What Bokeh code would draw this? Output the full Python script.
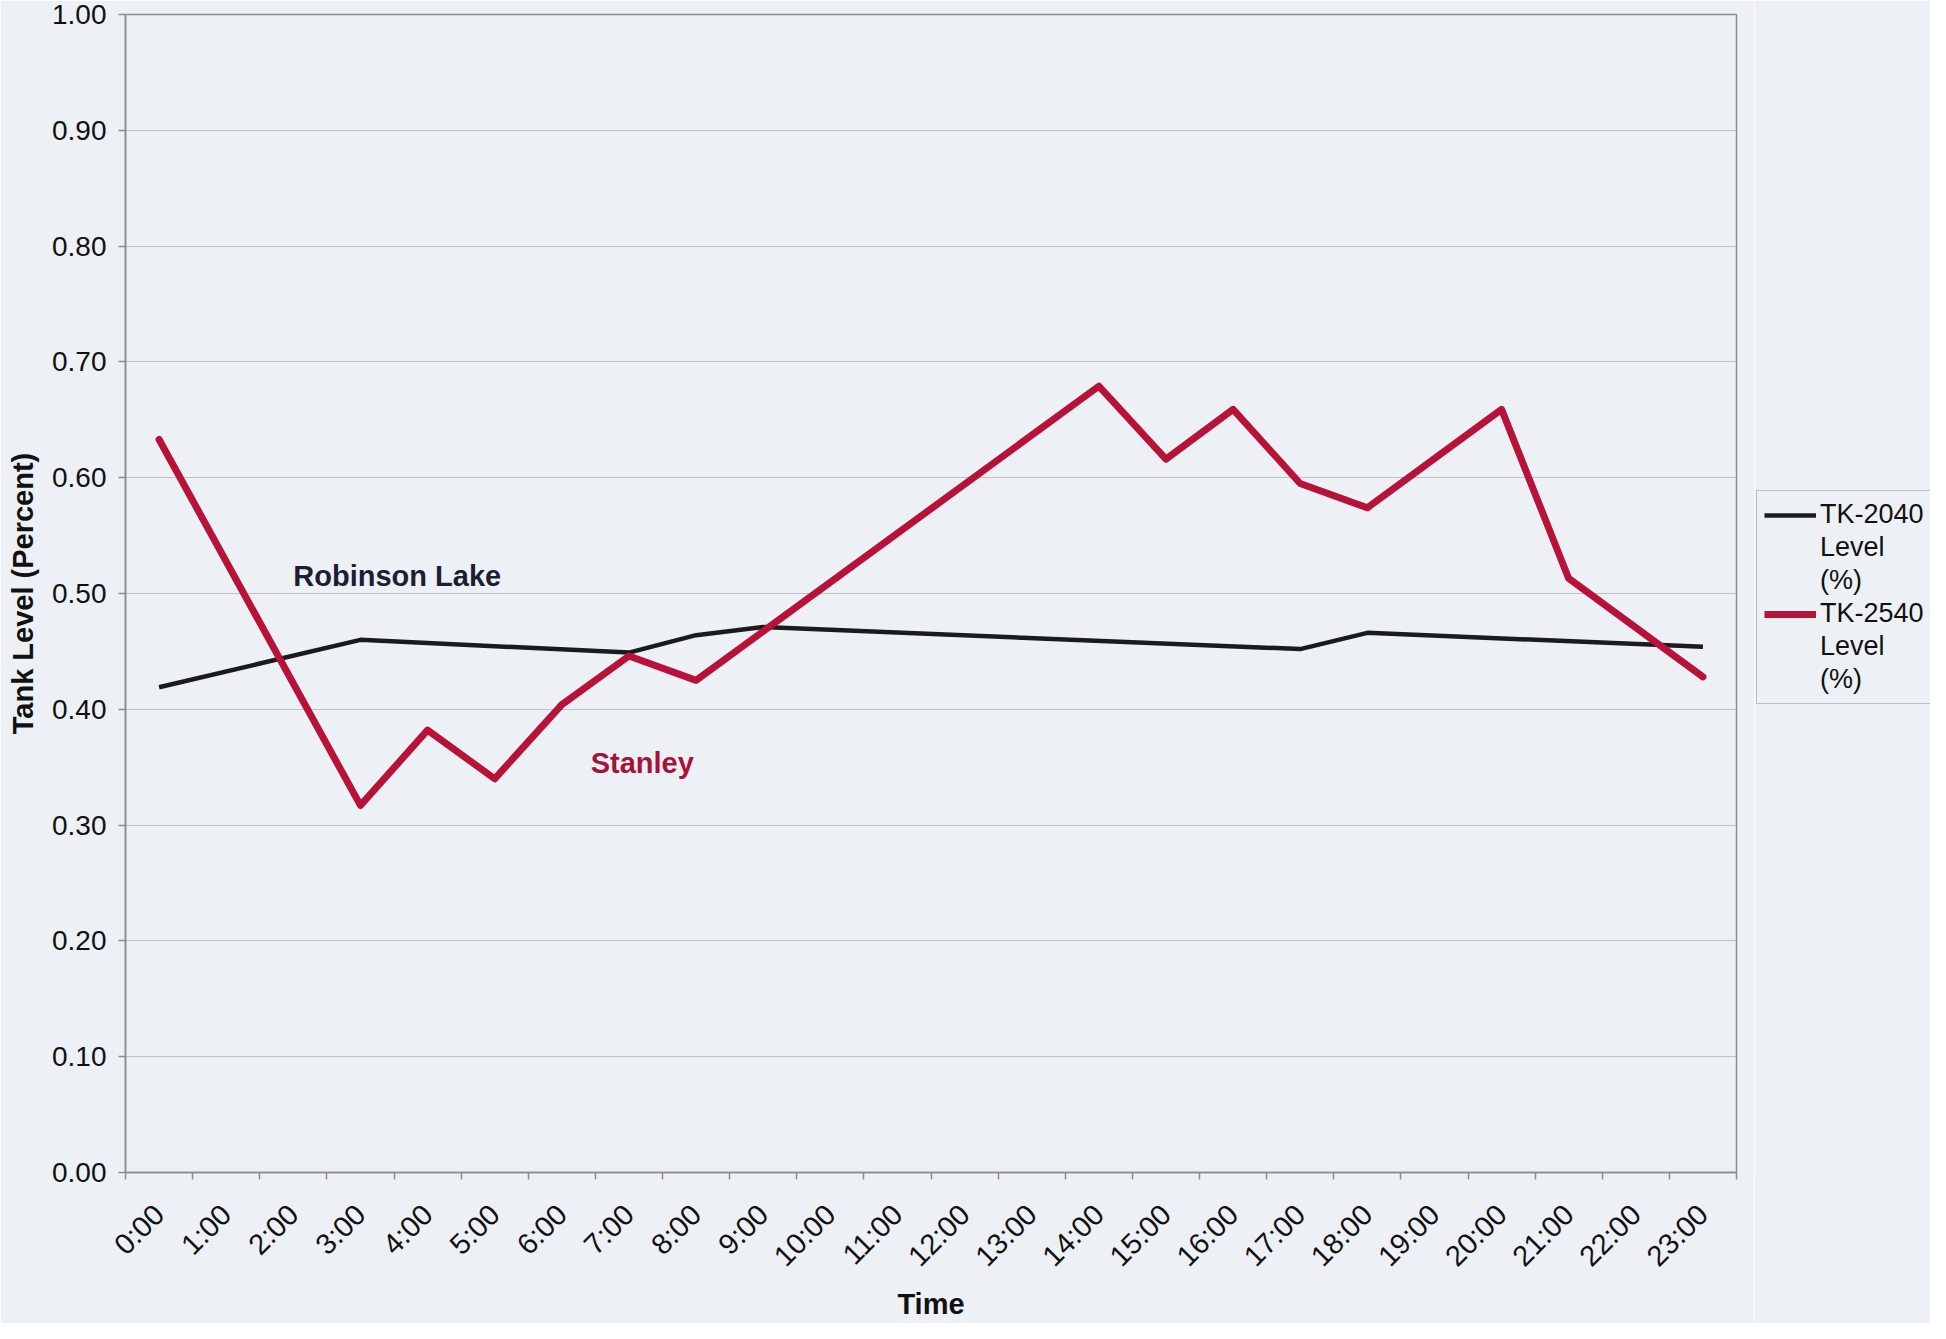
import math
from bokeh.plotting import figure
from bokeh.layouts import row
from bokeh.models import (Range1d, FixedTicker, NumeralTickFormatter, Legend, LegendItem,
                          Label, ColumnDataSource)
from bokeh.embed import file_html
from bokeh.resources import INLINE

# ---------------- data ----------------
hour_labels = ["%d:00" % h for h in range(24)]

tk2040_hours = [0, 3, 7, 8, 9, 17, 18, 23]
tk2040_level = [0.419, 0.460, 0.449, 0.464, 0.471, 0.452, 0.466, 0.454]

tk2540_hours = [0, 3, 4, 5, 6, 7, 8, 14, 15, 16, 17, 18, 20, 21, 23]
tk2540_level = [0.633, 0.317, 0.382, 0.340, 0.404, 0.446, 0.425, 0.679,
                0.616, 0.659, 0.595, 0.574, 0.659, 0.513, 0.428]

y_ticks = [round(i * 0.1, 1) for i in range(11)]

series_names = [["TK-2040", "Level", "(%)"], ["TK-2540", "Level", "(%)"]]
annotations = [("Robinson Lake", 2.5, 0.515), ("Stanley", 6.93, 0.354)]

# ---------------- style ----------------
BG = "#edf1f5"
GRID = "#a4a8ae"
FRAME = "#8a8d92"
BLACK = "#1b1b1e"
RED = "#b9123a"
FONT = "Liberation Sans"

H = 1323
W_MAIN, W_LEG = 1754, 176
ML, MR, MT, MB = 125, 18, 14, 136

p = figure(width=W_MAIN, height=H, output_backend="svg", toolbar_location=None,
           x_range=Range1d(0, 24), y_range=Range1d(0, 1.0),
           min_border_left=ML, min_border_right=MR, min_border_top=MT,
           min_border_bottom=MB)
p.background_fill_color = BG
p.border_fill_color = BG
p.outline_line_color = FRAME
p.outline_line_width = 1.5

# x axis: labels at category centres, tick marks at boundaries
xa = p.xaxis[0]
xa.ticker = FixedTicker(ticks=[h + 0.5 for h in range(24)],
                        minor_ticks=list(range(25)))
xa.major_label_overrides = {h + 0.5: lab for h, lab in enumerate(hour_labels)}
xa.major_label_orientation = math.pi / 4
xa.major_tick_out = 0
xa.major_tick_in = 0
xa.minor_tick_out = 7
xa.minor_tick_in = 0
xa.minor_tick_line_color = FRAME
xa.minor_tick_line_width = 1.5
xa.axis_line_color = FRAME
xa.axis_line_width = 1.5
xa.major_label_text_font = FONT
xa.major_label_text_font_size = "29px"
xa.major_label_text_color = "#111111"
xa.major_label_standoff = 30
xa.axis_label = "Time"
xa.axis_label_text_font = FONT
xa.axis_label_text_font_style = "bold"
xa.axis_label_text_font_size = "29px"
xa.axis_label_text_color = "#111111"
xa.axis_label_standoff = 2

ya = p.yaxis[0]
ya.ticker = FixedTicker(ticks=y_ticks)
ya.formatter = NumeralTickFormatter(format="0.00")
ya.major_tick_out = 7
ya.major_tick_in = 0
ya.minor_tick_out = 0
ya.minor_tick_in = 0
ya.major_tick_line_color = FRAME
ya.major_tick_line_width = 1.5
ya.axis_line_color = FRAME
ya.axis_line_width = 1.5
ya.major_label_text_font = FONT
ya.major_label_text_font_size = "28px"
ya.major_label_text_color = "#111111"
ya.major_label_standoff = 12
ya.axis_label = "Tank Level (Percent)"
ya.axis_label_text_font = FONT
ya.axis_label_text_font_style = "bold"
ya.axis_label_text_font_size = "29px"
ya.axis_label_text_color = "#111111"
ya.axis_label_standoff = 10

p.xgrid.grid_line_color = None
p.ygrid.ticker = FixedTicker(ticks=y_ticks)
p.ygrid.grid_line_color = GRID
p.ygrid.grid_line_width = 1.2
p.ygrid.grid_line_alpha = 0.65

src1 = ColumnDataSource(dict(x=[h + 0.5 for h in tk2040_hours], y=tk2040_level))
src2 = ColumnDataSource(dict(x=[h + 0.5 for h in tk2540_hours], y=tk2540_level))
p.line("x", "y", source=src1, line_color=BLACK, line_width=4.5, line_join="round")
p.line("x", "y", source=src2, line_color=RED, line_width=7, line_join="round",
       line_cap="round")

for (txt, lx, ly), col in zip(annotations, ["#1c1f33", "#a8123a"]):
    p.add_layout(Label(x=lx, y=ly, text=txt, text_align="left", text_baseline="middle",
                       text_font=FONT, text_font_style="bold", text_font_size="29px",
                       text_color=col))

# ---------------- legend strip to the right of the frame ----------------
pl = figure(width=W_LEG, height=H, output_backend="svg", toolbar_location=None,
            x_range=Range1d(-50, -49), y_range=Range1d(0, 1),
            min_border_left=1, min_border_right=0, min_border_top=MT,
            min_border_bottom=MB, x_axis_location=None, y_axis_location=None)
pl.background_fill_color = BG
pl.border_fill_color = BG
pl.outline_line_color = None
pl.grid.visible = False
# same series, out of view in this strip: only their legend swatches show
k1 = pl.line("x", "y", source=src1, line_color=BLACK, line_width=4.5)
k2 = pl.line("x", "y", source=src2, line_color=RED, line_width=7)
k_blank = pl.line("x", "y", source=src1, line_alpha=0)

items = []
for lines, rend in zip(series_names, [k1, k2]):
    items.append(LegendItem(label=lines[0], renderers=[rend]))
    for extra in lines[1:]:
        items.append(LegendItem(label=extra, renderers=[k_blank]))

legend = Legend(items=items, location=(1, 468), margin=0, padding=7, spacing=0,
                glyph_width=52, glyph_height=20, label_height=33, label_standoff=4,
                label_text_font=FONT, label_text_font_size="27px",
                label_text_color="#111111",
                border_line_color=FRAME, border_line_width=1.5,
                background_fill_color=BG, background_fill_alpha=1.0)
pl.add_layout(legend, "center")

layout = row(p, pl)
open("out.html", "w").write(file_html(layout, INLINE))
